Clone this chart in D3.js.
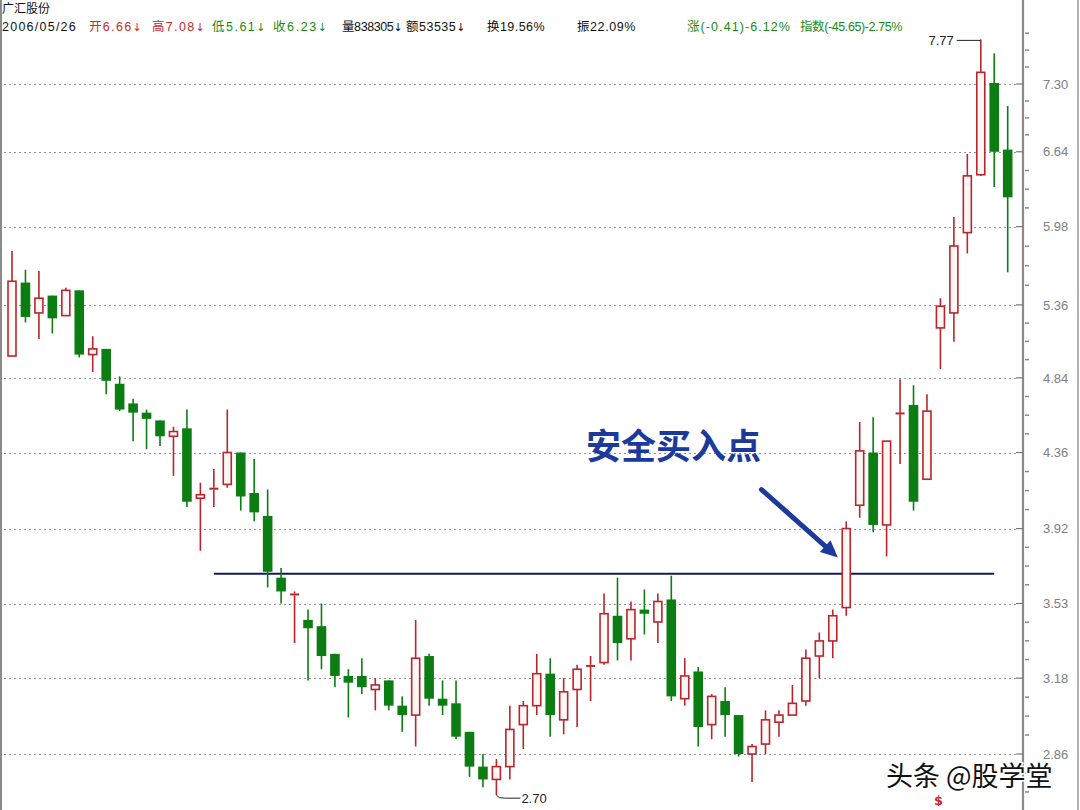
<!DOCTYPE html>
<html><head><meta charset="utf-8">
<script src="https://cdn.jsdelivr.net/npm/d3@7"></script>
<style>
body{margin:0;background:#fff;}
svg{display:block;}
</style>
</head><body>
<svg id="chart" width="1080" height="810"></svg>
<script>
// ---------- data ----------
const opens  = [4.99,5.53,5.30,5.43,5.28,5.47,5.00,5.04,4.80,4.67,4.61,4.56,4.46,4.51,4.09,4.14,4.17,4.36,4.12,3.99,
                3.66,3.57,3.45,3.42,3.29,3.19,3.19,3.13,3.17,3.06,3.02,3.28,3.09,3.07,2.95,2.81,2.76,2.81,2.98,3.06,
                3.20,3.00,3.13,3.23,3.25,3.47,3.36,3.50,3.44,3.55,3.09,3.21,2.98,3.08,3.02,2.86,2.90,2.99,3.02,3.08,
                3.28,3.35,3.51,4.05,4.36,3.94,4.60,4.66,4.20,5.19,5.30,5.93,6.43,7.31,6.66];
const highs  = [5.78,5.63,5.62,5.43,5.49,5.47,5.13,5.04,4.85,4.70,4.63,4.56,4.52,4.63,4.18,4.26,4.63,4.36,4.32,4.14,
                3.71,3.59,3.50,3.53,3.29,3.22,3.27,3.18,3.17,3.10,3.45,3.29,3.17,3.17,2.95,2.86,2.84,3.06,3.08,3.29,
                3.27,3.18,3.24,3.28,3.58,3.66,3.54,3.60,3.58,3.67,3.27,3.23,3.11,3.14,3.02,2.90,3.04,3.04,3.15,3.31,
                3.39,3.50,3.96,4.55,4.58,4.43,4.83,4.79,4.73,5.41,6.06,6.62,7.77,7.62,7.08];
const lows   = [4.99,5.23,5.11,5.15,5.28,4.98,4.88,4.73,4.62,4.43,4.38,4.40,4.22,4.04,3.80,4.04,4.15,4.02,3.96,3.61,
                3.53,3.34,3.17,3.22,3.14,3.01,3.11,3.04,3.04,2.95,2.89,3.06,3.02,2.92,2.77,2.73,2.70,2.76,2.88,3.02,
                2.93,2.94,2.97,3.08,3.24,3.26,3.26,3.38,3.34,3.08,3.06,2.89,2.92,2.93,2.85,2.75,2.86,2.93,3.02,3.06,
                3.18,3.27,3.47,3.98,3.90,3.77,4.29,4.02,4.20,4.90,5.09,5.76,6.42,6.32,5.61];
const closes = [5.54,5.27,5.41,5.26,5.47,5.00,5.04,4.82,4.63,4.61,4.57,4.46,4.49,4.07,4.11,4.15,4.36,4.10,4.01,3.69,
                3.59,3.58,3.41,3.28,3.19,3.16,3.14,3.15,3.06,3.02,3.27,3.09,3.06,2.93,2.81,2.76,2.81,2.96,3.06,3.20,
                3.02,3.12,3.22,3.24,3.48,3.34,3.50,3.48,3.54,3.10,3.19,2.97,3.10,3.02,2.86,2.89,3.00,3.02,3.07,3.27,
                3.35,3.47,3.92,4.37,3.94,4.43,4.61,4.07,4.62,5.35,5.82,6.42,7.42,6.64,6.23];
const days = d3.range(opens.length);

const tickValues = [2.86,3.18,3.53,3.92,4.36,4.84,5.36,5.98,6.64,7.30];
const tickLabels = ["2.86","3.18","3.53","3.92","4.36","4.84","5.36","5.98","6.64","7.30"];

const stockName = "广汇股份";
const headerTexts  = ["2006/05/26","开6.66↓","高7.08↓","低5.61↓","收6.23↓","量838305↓","额53535↓","换19.56%","振22.09%","涨(-0.41)-6.12%","指数(-45.65)-2.75%"];
const headerColors = ["#111","#c8282a","#c8282a","#178a17","#178a17","#111","#111","#111","#111","#178a17","#178a17"];
const headerStart  = [2,89,152,212,273,342,406,487,577,687,800];
const headerEnd    = [77,143,206,267,337,402,466,545,636,791,895];

const necklinePrice = 3.68, necklineFrom = 15, necklineTo = 73;
const maxLabel = "7.77", minLabel = "2.70";
const annotationText = "安全买入点";
const annotationAt = [42.66, 4.32];        // [day index, price]
const arrowFrom = [55.7, 4.14], arrowTo = [61.38, 3.765];
const signalDay = 69, signalText = "$";
const watermark = "头条 @股学堂";

// ---------- scales ----------
const svg = d3.select("#chart");
const x = d3.scaleLinear().domain([0, days.length - 1]).range([12, 1007.7]);
const y = d3.scaleLog().domain([2.86, 7.30]).range([754, 84]);
const RED = "#b8262c", GREEN = "#0c7d12", bodyW = 8;

// borders
svg.append("line").attr("x1",1).attr("x2",1).attr("y1",0).attr("y2",810).attr("stroke","#8a8a8a").attr("stroke-width",2);
svg.append("line").attr("x1",1078).attr("x2",1078).attr("y1",0).attr("y2",810).attr("stroke","#9a9a9a").attr("stroke-width",1.5);

// gridlines
svg.append("g").selectAll("line").data(tickValues).join("line")
  .attr("x1",4).attr("x2",1018).attr("y1",d=>Math.round(y(d))+0.5).attr("y2",d=>Math.round(y(d))+0.5)
  .attr("stroke","#939393").attr("stroke-width",1).attr("stroke-dasharray","2,3");

// right axis
const axisG = svg.append("g").attr("transform","translate(1023,0)");
const axis = d3.axisRight(y).tickValues(tickValues).tickFormat((d,i)=>tickLabels[i]).tickSize(0).tickPadding(20);
axisG.call(axis);
axisG.select(".domain").remove();
axisG.selectAll("text").attr("fill","#808080").attr("font-family","Liberation Sans, Arial, sans-serif").attr("font-size",13);
svg.append("line").attr("x1",1023).attr("x2",1023).attr("y1",0).attr("y2",810).attr("stroke","#8a8a8a").attr("stroke-width",2.2);
svg.append("g").selectAll("line").data(tickValues).join("line")
  .attr("x1",1016).attr("x2",1023).attr("y1",d=>y(d)).attr("y2",d=>y(d)).attr("stroke","#777").attr("stroke-width",1.2);
// minor ticks at quarters between labels
const minor = [];
for (let i=0;i<tickValues.length;i++){
  const a = tickValues[i], b = i<tickValues.length-1 ? tickValues[i+1] : tickValues[i]*tickValues[i]/tickValues[i-1];
  [0.25,0.5,0.75].forEach(f=>minor.push(Math.exp(Math.log(a)+f*(Math.log(b)-Math.log(a)))));
  if (i===0) {
    const a0 = tickValues[0]*tickValues[0]/tickValues[1];
    [0.25,0.5,0.75].forEach(f=>minor.push(Math.exp(Math.log(a0)+f*(Math.log(a)-Math.log(a0)))));
  }
}
svg.append("g").selectAll("line").data(minor.filter(v=>y(v)>0&&y(v)<810)).join("line")
  .attr("x1",1025).attr("x2",1029).attr("y1",d=>y(d)).attr("y2",d=>y(d)).attr("stroke","#888").attr("stroke-width",1.5);

// neckline
svg.append("line").attr("x1",x(necklineFrom)).attr("x2",x(necklineTo))
  .attr("y1",y(necklinePrice)).attr("y2",y(necklinePrice)).attr("stroke","#121a5e").attr("stroke-width",2.2);

// candles
const candles = svg.append("g").selectAll("g").data(days).join("g");
candles.each(function(i){
  const g = d3.select(this), o=opens[i], h=highs[i], l=lows[i], c=closes[i];
  const up = c >= o, col = up ? RED : GREEN, cx = x(i);
  const top = y(Math.max(o,c)), bot = y(Math.min(o,c));
  if (up) {
    g.append("line").attr("x1",cx).attr("x2",cx).attr("y1",y(h)).attr("y2",top).attr("stroke",col).attr("stroke-width",1.6);
    g.append("line").attr("x1",cx).attr("x2",cx).attr("y1",bot).attr("y2",y(l)).attr("stroke",col).attr("stroke-width",1.6);
    if (bot - top < 2.5) {
      g.append("rect").attr("x",cx-bodyW/2-0.5).attr("width",bodyW+1).attr("y",(top+bot)/2-1).attr("height",2).attr("fill",col);
    } else {
      g.append("rect").attr("x",cx-bodyW/2).attr("width",bodyW).attr("y",top).attr("height",bot-top)
        .attr("fill","#fff6f6").attr("stroke",col).attr("stroke-width",1.6);
    }
  } else {
    g.append("line").attr("x1",cx).attr("x2",cx).attr("y1",y(h)).attr("y2",y(l)).attr("stroke",col).attr("stroke-width",1.6);
    g.append("rect").attr("x",cx-bodyW/2-0.8).attr("width",bodyW+1.6).attr("y",top).attr("height",Math.max(2,bot-top)).attr("fill",col);
  }
});

// max / min labels
const iMax = d3.maxIndex(highs), iMin = d3.minIndex(lows);
const yMax = y(highs[iMax]);
svg.append("path").attr("d",`M${x(iMax)-24},${yMax+1}H${x(iMax)}`).attr("stroke","#222").attr("fill","none").attr("stroke-width",1);
svg.append("text").attr("x",x(iMax)-27).attr("y",yMax+1).attr("dy","0.35em").attr("text-anchor","end")
  .attr("font-family","Liberation Sans, Arial, sans-serif").attr("font-size",13).attr("fill","#222").text(maxLabel);
const yMin = y(lows[iMin]), xm = x(iMin);
svg.append("path").attr("d",`M${xm},${yMin}L${xm+3},${yMin+2.5}L${xm+9},${yMin+3}H${xm+24}`).attr("stroke","#222").attr("fill","none").attr("stroke-width",1);
svg.append("text").attr("x",xm+25).attr("y",yMin+3).attr("dy","0.35em")
  .attr("font-family","Liberation Sans, Arial, sans-serif").attr("font-size",13).attr("fill","#222").text(minLabel);

// annotation text & arrow
svg.append("text").attr("x",x(annotationAt[0])).attr("y",y(annotationAt[1]))
  .attr("font-family","Noto Sans CJK SC, sans-serif").attr("font-size",35).attr("font-weight",700)
  .attr("fill","#1b3a9c").text(annotationText);
const ax0=x(arrowFrom[0]), ay0=y(arrowFrom[1]), ax1=x(arrowTo[0]), ay1=y(arrowTo[1]);
const ang = Math.atan2(ay1-ay0, ax1-ax0), hl=17, hw=8;
const bx = ax1 - hl*Math.cos(ang), by = ay1 - hl*Math.sin(ang);
svg.append("line").attr("x1",ax0).attr("y1",ay0).attr("x2",bx).attr("y2",by)
  .attr("stroke","#1b3a9c").attr("stroke-width",5).attr("stroke-linecap","round");
svg.append("polygon").attr("points",[
  [ax1,ay1],[bx+hw*Math.sin(ang),by-hw*Math.cos(ang)],[bx-hw*Math.sin(ang),by+hw*Math.cos(ang)]
].map(p=>p.join(",")).join(" ")).attr("fill","#1b3a9c");

// header
svg.append("text").attr("x",2).attr("y",12.5).attr("font-family","Noto Sans CJK SC, sans-serif").attr("font-size",12).attr("fill","#111").text(stockName);
const hg = svg.append("g");
headerTexts.forEach((t,i)=>{
  const tx = hg.append("text").attr("x",headerStart[i]).attr("y",31)
    .attr("font-family","Liberation Sans, Noto Sans CJK SC, sans-serif").attr("font-size",12.5)
    .attr("fill",headerColors[i]);
  t.split(/(↓)/).filter(s=>s.length).forEach(s=>{
    const sp = tx.append("tspan").text(s);
    if (s==="↓") sp.attr("font-family","DejaVu Sans, sans-serif").attr("font-size",11);
  });
  const nat = tx.node().getComputedTextLength();
  const ls = Math.max(-0.4, Math.min(1.6, ((headerEnd[i]-headerStart[i]) - nat) / t.length));
  tx.attr("letter-spacing", ls);
});

// signal mark
svg.append("text").attr("x",x(signalDay)-2).attr("y",805).attr("text-anchor","middle")
  .attr("font-family","DejaVu Sans, sans-serif").attr("font-size",13).attr("font-weight",700).attr("fill","#c8283a").text(signalText);

// watermark
svg.append("text").attr("x",886).attr("y",786)
  .attr("font-family","Noto Sans CJK SC, sans-serif").attr("font-size",27)
  .attr("fill","#111").attr("stroke","#fff").attr("stroke-width",3).attr("paint-order","stroke").text(watermark);
</script>
</body></html>
